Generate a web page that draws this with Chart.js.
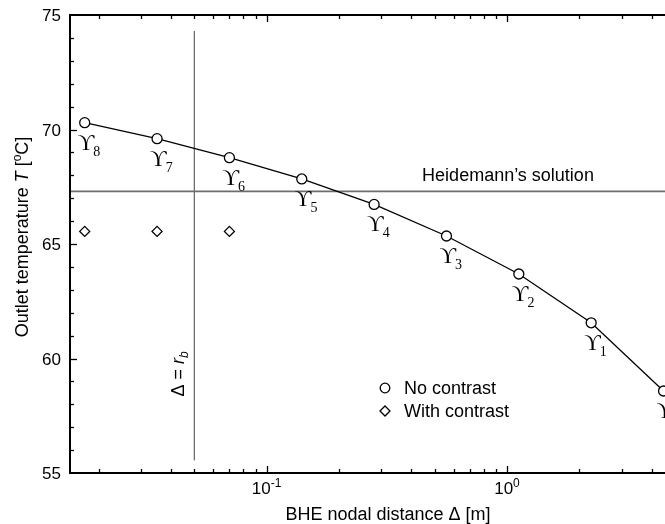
<!DOCTYPE html>
<html lang="en">
<head>
<meta charset="UTF-8">
<title>Outlet temperature vs BHE nodal distance</title>
<script src="https://cdn.jsdelivr.net/npm/chart.js"></script>
<style>
  html, body { margin: 0; padding: 0; background: #fff; overflow: hidden; }
  .wrap { width: 700px; height: 524px; }
</style>
</head>
<body>
<div class="wrap"><canvas id="tempChart" width="700" height="524"></canvas></div>
<script>
  // Data
  const nodalDistance = [0.0175, 0.035, 0.07, 0.14, 0.28, 0.56, 1.12, 2.24, 4.48];
  const noContrast = [70.3, 69.6, 68.77, 67.84, 66.73, 65.35, 63.69, 61.56, 58.58];
  const refineLevels = ['8', '7', '6', '5', '4', '3', '2', '1', '0'];
  const contrastDistance = [0.0175, 0.035, 0.07];
  const withContrast = [65.55, 65.55, 65.55];
  const heidemannT = 67.3;
  const boreRadius = 0.05;
  const boreLineT = [55.55, 74.3];
  const yTickLabels = [55, 60, 65, 70, 75];
  const xTickExponents = [-1, 0];

  const SANS = '"Liberation Sans", Arial, sans-serif';
  const SERIF = '"Liberation Serif", "DejaVu Serif", "Times New Roman", serif';

  function seg(ctx, x1, y1, x2, y2) {
    ctx.beginPath();
    ctx.moveTo(x1, y1);
    ctx.lineTo(x2, y2);
    ctx.stroke();
  }

  // axes, ticks, labels and annotations (drawn on top of the datasets)
  const decorations = {
    id: 'decorations',
    afterDraw(chart) {
      const ctx = chart.ctx;
      const { left, right, top, bottom } = chart.chartArea;
      const xs = chart.scales.x, ys = chart.scales.y;
      ctx.save();
      ctx.strokeStyle = '#000';
      ctx.fillStyle = '#000';

      // frame
      ctx.lineWidth = 2;
      ctx.strokeRect(left, top, right - left, bottom - top);

      // inward ticks, log x axis
      ctx.lineWidth = 1.3;
      for (let e = -2; e <= 0; e++) {
        for (let m = 1; m <= 9; m++) {
          const v = m * Math.pow(10, e);
          if (v <= xs.min || v >= xs.max) continue;
          const px = Math.round(xs.getPixelForValue(v)) + 0.5;
          const len = m === 1 ? 7 : 4;
          seg(ctx, px, bottom, px, bottom - len);
          seg(ctx, px, top, px, top + len);
        }
      }
      // inward ticks, y axis
      for (let v = ys.min + 1; v < ys.max; v++) {
        const py = Math.round(ys.getPixelForValue(v)) + 0.5;
        const len = v % 5 === 0 ? 7 : 4;
        seg(ctx, left, py, left + len, py);
      }

      // y tick labels
      ctx.font = '17px ' + SANS;
      ctx.textAlign = 'right';
      ctx.textBaseline = 'alphabetic';
      yTickLabels.forEach(v => {
        ctx.fillText(String(v), left - 9, ys.getPixelForValue(v) + 6);
      });

      // x tick labels 10^n
      ctx.textAlign = 'left';
      xTickExponents.forEach(e => {
        const px = xs.getPixelForValue(Math.pow(10, e));
        ctx.font = '17px ' + SANS;
        const wb = ctx.measureText('10').width;
        const sup = String(e);
        ctx.font = '12px ' + SANS;
        const we = ctx.measureText(sup).width;
        const x0 = px - (wb + we) / 2;
        ctx.font = '17px ' + SANS;
        ctx.fillText('10', x0, bottom + 20.5);
        ctx.font = '12px ' + SANS;
        ctx.fillText(sup, x0 + wb, bottom + 14);
      });

      // x title
      ctx.font = '18px ' + SANS;
      ctx.textAlign = 'center';
      ctx.fillText('BHE nodal distance \u0394 [m]', 388, 519.5);

      // y title, rotated, with italic T and superscript o
      ctx.save();
      ctx.translate(27.5, 237);
      ctx.rotate(-Math.PI / 2);
      const parts = [
        { t: 'Outlet temperature ', f: '18px ' + SANS, dy: 0 },
        { t: 'T', f: 'italic 18px ' + SANS, dy: 0 },
        { t: ' [', f: '18px ' + SANS, dy: 0 },
        { t: 'o', f: '12px ' + SANS, dy: -7 },
        { t: 'C]', f: '18px ' + SANS, dy: 0 }
      ];
      let total = 0;
      parts.forEach(p => { ctx.font = p.f; p.w = ctx.measureText(p.t).width; total += p.w; });
      let cx = -total / 2;
      ctx.textAlign = 'left';
      parts.forEach(p => { ctx.font = p.f; ctx.fillText(p.t, cx, p.dy); cx += p.w; });
      ctx.restore();

      // refinement level labels below each circle
      nodalDistance.forEach((d, i) => {
        const px = xs.getPixelForValue(d);
        const py = ys.getPixelForValue(noContrast[i]);
        ctx.textAlign = 'left';
        ctx.font = '23px ' + SERIF;
        ctx.fillText('\u03D2', px - 7, py + 27);
        const w = ctx.measureText('\u03D2').width;
        ctx.font = '14px ' + SERIF;
        ctx.fillText(refineLevels[i], px - 8 + w, py + 33);
      });

      // Heidemann's solution label
      ctx.font = '18px ' + SANS;
      ctx.textAlign = 'center';
      ctx.fillText('Heidemann\u2019s solution', 508, 181);

      // Delta = r_b label, rotated
      ctx.save();
      ctx.translate(183.5, 396.5);
      ctx.rotate(-Math.PI / 2);
      ctx.textAlign = 'left';
      ctx.font = '18px ' + SANS;
      let tx = 0;
      ctx.fillText('\u0394 = ', tx, 0);
      tx += ctx.measureText('\u0394 = ').width;
      ctx.font = 'italic 18px ' + SANS;
      ctx.fillText('r', tx, 0);
      tx += ctx.measureText('r').width;
      ctx.font = 'italic 12px ' + SANS;
      ctx.fillText('b', tx, 4);
      ctx.restore();

      // legend
      ctx.lineWidth = 1.3;
      ctx.fillStyle = '#fff';
      ctx.beginPath();
      ctx.arc(385, 388, 4.8, 0, Math.PI * 2);
      ctx.fill();
      ctx.stroke();
      ctx.beginPath();
      ctx.moveTo(380, 411);
      ctx.lineTo(385, 406);
      ctx.lineTo(390, 411);
      ctx.lineTo(385, 416);
      ctx.closePath();
      ctx.fill();
      ctx.stroke();
      ctx.fillStyle = '#000';
      ctx.font = '18px ' + SANS;
      ctx.textAlign = 'left';
      ctx.textBaseline = 'middle';
      ctx.fillText('No contrast', 404, 389);
      ctx.fillText('With contrast', 404, 412);

      ctx.restore();
    }
  };

  new Chart(document.getElementById('tempChart'), {
    type: 'scatter',
    data: {
      datasets: [
        {
          label: 'No contrast',
          data: nodalDistance.map((d, i) => ({ x: d, y: noContrast[i] })),
          showLine: true,
          borderColor: '#000',
          borderWidth: 1.3,
          pointRadius: 5,
          pointBackgroundColor: '#fff',
          pointBorderColor: '#000',
          pointBorderWidth: 1.3,
          order: 1
        },
        {
          label: 'With contrast',
          data: contrastDistance.map((d, i) => ({ x: d, y: withContrast[i] })),
          pointStyle: 'rectRot',
          pointRadius: 5,
          pointBackgroundColor: '#fff',
          pointBorderColor: '#000',
          pointBorderWidth: 1.3,
          order: 2
        },
        {
          label: 'Heidemann\u2019s solution',
          data: [{ x: 0.0152, y: heidemannT }, { x: 5, y: heidemannT }],
          showLine: true,
          borderColor: '#6e6e6e',
          borderWidth: 1.8,
          pointRadius: 0,
          order: 3
        },
        {
          label: 'r_b',
          data: [{ x: boreRadius, y: boreLineT[0] }, { x: boreRadius, y: boreLineT[1] }],
          showLine: true,
          borderColor: '#444',
          borderWidth: 1,
          pointRadius: 0,
          order: 4
        }
      ]
    },
    options: {
      responsive: false,
      animation: false,
      events: [],
      layout: { padding: { left: 70, top: 15, right: 25, bottom: 51 } },
      scales: {
        x: { type: 'logarithmic', min: 0.0152, max: 5, display: false },
        y: { type: 'linear', min: 55, max: 75, display: false }
      },
      plugins: {
        legend: { display: false },
        tooltip: { enabled: false }
      }
    },
    plugins: [decorations]
  });
</script>
</body>
</html>
